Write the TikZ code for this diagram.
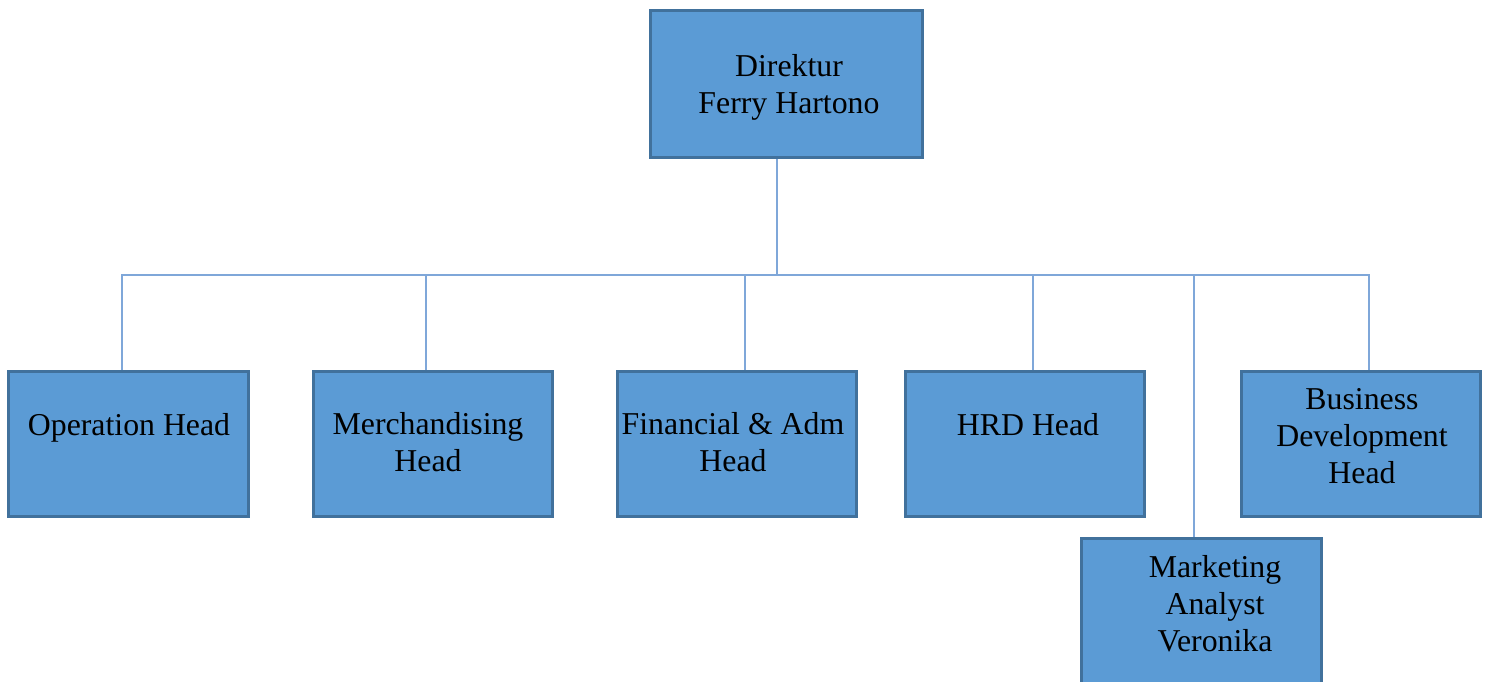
\documentclass[tikz,border=0pt]{standalone}
\usepackage{fontspec}
\setmainfont{Liberation Serif}
\definecolor{boxfill}{HTML}{5B9BD5}
\definecolor{boxline}{HTML}{41719C}
\definecolor{connblue}{HTML}{7FA7D9}
\begin{document}
\begin{tikzpicture}[x=1pt,y=-1pt,
  orgbox/.style={rectangle,draw=boxline,fill=boxfill,line width=3pt,inner sep=0pt},
  orgtext/.style={align=center,font=\fontsize{31.8}{37}\selectfont,text=black,inner sep=0pt,anchor=base},
  connline/.style={draw=connblue,line width=1.3pt}]
\useasboundingbox (0,0) rectangle (1485,681);
\clip (0,0) rectangle (1485,681);
% boxes
\node[orgbox,minimum width=272pt,minimum height=147pt] (dir) at (786,83.5) {};
\node[orgbox,minimum width=240pt,minimum height=145pt] (op) at (128,443.5) {};
\node[orgbox,minimum width=239pt,minimum height=145pt] (mer) at (432.5,443.5) {};
\node[orgbox,minimum width=239pt,minimum height=145pt] (fin) at (736.5,443.5) {};
\node[orgbox,minimum width=239pt,minimum height=145pt] (hrd) at (1024.5,443.5) {};
\node[orgbox,minimum width=239pt,minimum height=145pt] (bus) at (1360.5,443.5) {};
\node[orgbox,minimum width=240pt,minimum height=200pt] (mkt) at (1201,638) {};
% connectors
\coordinate (hub) at (777,275);
\draw[connline] ([xshift=-9pt]dir.south) -- (hub);
\draw[connline] ([xshift=-6pt]op.north) |- (hub);
\draw[connline] ([xshift=-6.5pt]mer.north) |- (hub);
\draw[connline] ([xshift=8.5pt]fin.north) |- (hub);
\draw[connline] ([xshift=8.5pt]hrd.north) |- (hub);
\draw[connline] ([xshift=-7pt]mkt.north) |- (hub);
\draw[connline] ([xshift=8.5pt]bus.north) |- (hub);
% texts (anchor=base sits on the last line's baseline)
\node[orgtext] (dirt) at (789,113) {Direktur\\Ferry Hartono};
\node[orgtext] (opt) at (129,435) {Operation Head};
\node[orgtext] (mert) at (428,471) {Merchandising\\Head};
\node[orgtext] (fint) at (733,471) {Financial \& Adm\\Head};
\node[orgtext] (hrdt) at (1028,435) {HRD Head};
\node[orgtext] (bust) at (1362,483) {Business\\Development\\Head};
\node[orgtext] (mktt) at (1215,651) {Marketing\\Analyst\\Veronika};
\end{tikzpicture}
\end{document}
